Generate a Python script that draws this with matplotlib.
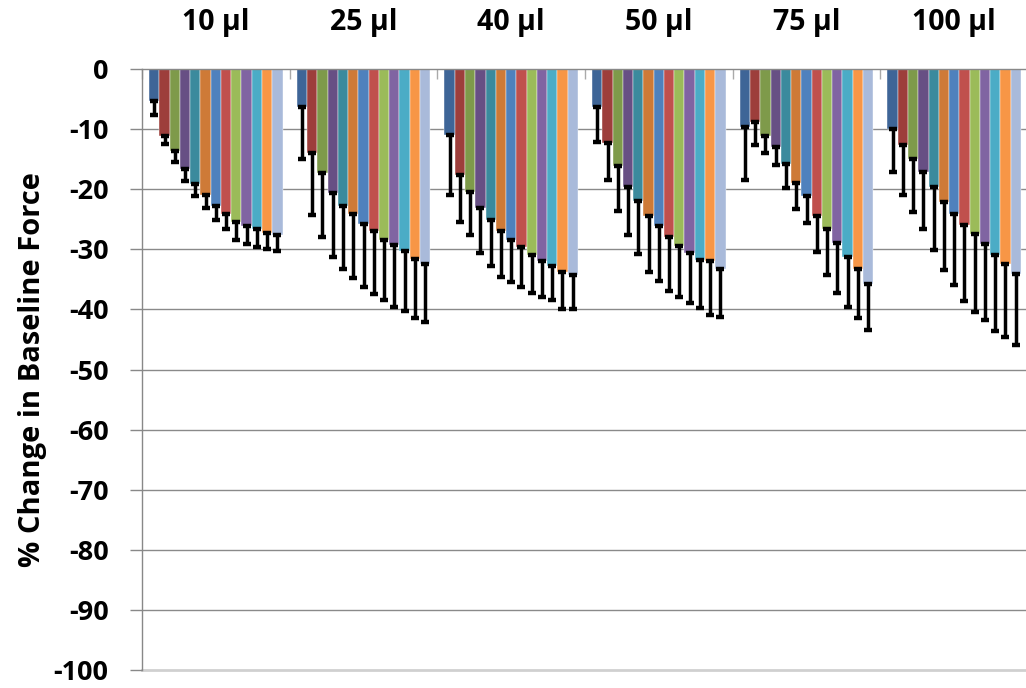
import matplotlib
matplotlib.use("Agg")
import matplotlib.pyplot as plt
import numpy as np

groups = ["10 µl", "25 µl", "40 µl", "50 µl", "75 µl", "100 µl"]

means = [
    [-5.4, -11.2, -13.7, -16.6, -19.1, -20.9, -22.8, -24.1, -25.4, -26.1, -26.6, -27.3, -27.7],
    [-6.4, -14.0, -17.3, -20.7, -22.8, -24.1, -25.8, -27.0, -28.5, -29.3, -30.3, -31.6, -32.4],
    [-10.9, -17.7, -20.5, -23.1, -25.2, -26.9, -28.5, -29.7, -31.0, -31.9, -32.8, -33.8, -34.3],
    [-6.3, -12.3, -16.2, -19.6, -22.0, -24.4, -26.1, -28.0, -29.4, -30.6, -31.7, -32.0, -33.2],
    [-9.7, -8.9, -11.2, -12.9, -15.8, -19.0, -21.1, -24.5, -26.6, -29.0, -31.2, -33.2, -35.7],
    [-10.0, -12.7, -15.0, -17.2, -19.7, -22.2, -24.1, -26.0, -27.5, -29.1, -30.9, -32.4, -34.1],
]

errors = [
    [2.2, 1.3, 1.7, 2.1, 2.1, 2.2, 2.3, 2.6, 3.0, 3.1, 3.1, 2.7, 2.5],
    [8.5, 10.3, 10.7, 10.6, 10.4, 10.6, 10.4, 10.4, 9.9, 10.3, 10.0, 9.8, 9.7],
    [10.0, 7.7, 7.2, 7.5, 7.6, 7.7, 7.0, 6.6, 6.2, 6.0, 5.7, 6.2, 5.7],
    [5.8, 6.2, 7.4, 8.1, 8.7, 9.4, 9.1, 8.9, 8.5, 8.4, 8.1, 9.0, 8.1],
    [8.7, 3.8, 2.8, 3.0, 4.0, 4.3, 4.5, 6.0, 7.6, 8.3, 8.4, 8.3, 7.8],
    [7.1, 8.2, 8.8, 9.4, 10.4, 11.3, 11.9, 12.6, 12.9, 12.6, 12.7, 12.2, 11.9],
]

colors = ["#3E6597", "#9D3E3B", "#7E9A4A", "#674F84", "#3B8A9D", "#CE7A37",
          "#4F81BD", "#C0504D", "#9BBB59", "#8064A2", "#4BACC6", "#F79646", "#A9BADA"]

yticks = [0, -10, -20, -30, -40, -50, -60, -70, -80, -90, -100]

plt.rcParams['font.family'] = ['Open Sans', 'DejaVu Sans']

W, H = 1026, 688
fig = plt.figure(figsize=(W / 100, H / 100), dpi=100)
left_px, right_px, top_px, bot_px = 142, 1028, 69, 670
ax = fig.add_axes([left_px / W, (H - bot_px) / H, (right_px - left_px) / W, (bot_px - top_px) / H])

means_arr = np.array(means)
err_arr = np.array(errors)
n_groups, n_series = means_arr.shape
bw = 0.0695
x0 = np.arange(n_groups) + 0.5

ax.set_ylim(-100, 0)
ax.set_xlim(0, n_groups)

for yv in yticks[1:-1]:
    ax.axhline(yv, color="#8A8A8A", lw=1.0, zorder=0)
ax.axhline(-100, color="#D0D0D0", lw=2.0, zorder=0, clip_on=False)

for s in range(n_series):
    xs = x0 + (s - (n_series - 1) / 2) * bw
    ax.bar(xs, means_arr[:, s], width=bw, color=colors[s], edgecolor="white",
           linewidth=0.3, zorder=2)
    ax.errorbar(xs, means_arr[:, s], yerr=[err_arr[:, s], np.zeros(n_groups)],
                fmt="none", ecolor="black", elinewidth=2.5, capsize=2.6, capthick=3.2,
                zorder=3)

for sp in ["right", "bottom"]:
    ax.spines[sp].set_visible(False)
ax.spines["left"].set_color("#888888")
ax.spines["top"].set_color("#888888")
ax.spines["left"].set_linewidth(1.0)
ax.spines["top"].set_linewidth(1.0)

ax.set_yticks(yticks)
ax.set_yticklabels([str(v) for v in yticks], fontsize=19.5, fontweight="bold")
ax.tick_params(axis="y", direction="out", length=9, width=1, color="#888888", pad=15)

ax.xaxis.set_ticks_position("top")
ax.set_xticks(np.arange(n_groups + 1))
ax.set_xticklabels([])
ax.tick_params(axis="x", which="major", direction="in", length=7.5, width=1, color="#AAAAAA")
ax.set_xticks(x0, minor=True)
ax.set_xticklabels(groups, minor=True, fontsize=20.5, fontweight="bold")
ax.tick_params(axis="x", which="minor", length=0, pad=23)

ax.set_ylabel("% Change in Baseline Force", fontsize=21, fontweight="bold", labelpad=5)

fig.savefig("out.png", dpi=100)
